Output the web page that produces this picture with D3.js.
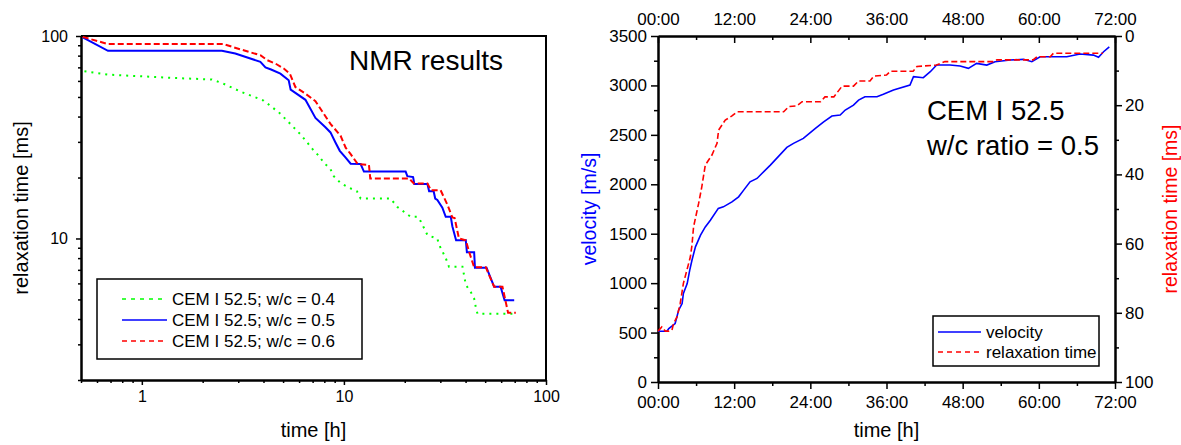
<!DOCTYPE html>
<html>
<head>
<meta charset="utf-8">
<script src="https://cdn.jsdelivr.net/npm/d3@7"></script>
<style>
body { margin: 0; background: #fff; }
text { font-family: "Liberation Sans", Arial, sans-serif; }
</style>
</head>
<body>
<script>
// left chart: NMR relaxation time vs time, [hours, ms]
var wc04 = [[0.52,67],[0.68,64.5],[1.0,63.2],[1.46,62],[2.22,61],[2.49,58.6],[3.13,52.8],[4.0,48],[4.76,42],[5.33,37.5],[6.09,32.7],[6.58,29.8],[7.0,27.6],[7.51,25.6],[7.95,23.7],[8.58,22.0],[8.91,20.3],[9.62,18.8],[10.6,17.8],[11.6,17.1],[12.1,15.75],[17.0,15.75],[18.4,14.3],[21.4,12.8],[23.1,12.8],[24.0,12.15],[25.9,10.4],[29.0,9.97],[29.6,9.3],[31.9,8.0],[33.1,7.26],[38.6,7.26],[39.3,6.6],[40.1,5.9],[42.4,5.45],[44.1,5.05],[44.9,4.6],[45.8,4.25],[70.5,4.25]]
var wc05 = [[0.51,98.5],[0.68,84.5],[2.49,84.5],[2.9,82],[3.86,74.5],[4.09,70],[4.36,68.3],[4.85,65.2],[5.33,60.4],[5.45,54.3],[6.45,48.4],[7.23,39.4],[8.1,35.4],[8.58,33.4],[9.08,29.8],[9.54,27.1],[10.2,25.1],[10.8,23.4],[12.1,23.3],[12.56,21.4],[20.2,21.4],[20.6,20.3],[22.0,20.1],[22.3,18.6],[25.9,18.6],[26.4,17.1],[27.8,17.1],[28.3,15.75],[29.0,15.5],[30.7,14.2],[31.9,12.8],[33.8,12.8],[34.4,11.5],[35.9,9.8],[40.1,9.8],[40.6,8.55],[44.1,8.55],[44.5,7.17],[50.8,7.17],[54.1,6.12],[55.4,5.77],[59.6,5.77],[62.4,4.95],[69.6,4.95]]
var wc06 = [[0.51,99],[0.68,91.2],[2.54,91.2],[2.79,88.5],[3.38,83.5],[3.86,80.4],[4.17,76],[4.58,73.1],[5.04,69.1],[5.4,65.2],[5.75,56],[6.45,51.9],[7.23,47.7],[8.58,36.8],[9.62,32.2],[10.2,28.1],[10.8,26.1],[11.7,23.3],[13.3,23.1],[13.5,19.8],[21.0,19.8],[22.2,18.7],[25.9,18.7],[27.0,17.3],[30.1,17.3],[32.5,14.7],[34.4,12.7],[35.3,12.6],[37.1,10.0],[40.1,9.8],[41.6,8.62],[44.1,7.2],[50.4,7.2],[55.4,5.77],[60.9,5.77],[64.9,4.3],[70.9,4.3]]
var nmrNames = ["CEM I 52.5; w/c = 0.4", "CEM I 52.5; w/c = 0.5", "CEM I 52.5; w/c = 0.6"]

// right chart: velocity [h, m/s] and relaxation time [h, ms]
var velocity = [[0,513],[1.4,513],[1.7,540],[2.7,591],[3.25,726],[3.8,794],[4.0,895],[4.6,996],[5.0,1131],[5.35,1232],[5.9,1367],[6.7,1485],[7.45,1569],[8.25,1637],[9.5,1756],[10.3,1772],[11.65,1822],[12.7,1873],[13.5,1941],[14.5,2025],[15.6,2059],[17.7,2194],[20.3,2373],[21.35,2414],[22.9,2464],[24.8,2566],[26.1,2632],[27.4,2690],[28.7,2700],[29.5,2751],[30.8,2801],[31.6,2852],[32.6,2886],[34.5,2886],[35.5,2910],[37.1,2953],[39.7,3004],[40.25,3088],[41.8,3078],[42.9,3139],[43.9,3206],[46,3206],[47.6,3196],[48.9,3173],[50.2,3223],[51.8,3206],[53.1,3240],[55.5,3257],[57.6,3264],[58.9,3240],[60.2,3290],[64.4,3290],[66.5,3318],[68.6,3307],[69.4,3284],[70.2,3341],[71.1,3391]]
var relax = [[0,85.3],[0.6,84.1],[1.15,85.3],[1.7,85.3],[2.2,85.0],[2.45,83.1],[3.0,81.2],[3.5,77.3],[4.0,71.5],[4.55,67.7],[5.1,63.8],[5.35,60.5],[5.6,55.2],[6.4,48.4],[6.9,43.6],[7.45,37.3],[8.5,34.4],[9.3,31.0],[9.55,27.2],[10.6,24.3],[11.65,23.1],[12.45,21.9],[19.8,21.9],[20.6,20.4],[21.9,20.2],[22.7,19.0],[25.6,19.0],[26.3,17.6],[27.7,17.6],[29.0,14.5],[30.8,14.5],[31.6,13.0],[33.4,13.0],[34.0,11.6],[36.0,11.3],[36.6,10.2],[40.2,10.2],[40.8,8.8],[43.9,8.4],[45.2,7.4],[52.8,7.4],[53.4,6.9],[59.1,6.9],[59.7,6.0],[61.8,6.0],[62.3,5.0],[70.1,5.0]]
var relaxNames = ["velocity", "relaxation time"]

var hourTicks = [0,12,24,36,48,60,72]
var velTicks = [0,500,1000,1500,2000,2500,3000,3500]
var relaxTicks = [0,20,40,60,80,100]

var svg = d3.select("body").append("svg")
    .attr("width", 1181)
    .attr("height", 445)

function styleAxis(g, size) {
    g.attr("font-family", null).attr("font-size", size)
    g.selectAll("text").attr("fill", "#000")
    g.selectAll("line").attr("stroke", "#000").attr("stroke-width", 1.5)
    g.select(".domain").attr("stroke", "#000").attr("stroke-width", 2)
}

// ---------- left chart ----------
var x1 = d3.scaleLog().domain([0.5, 100]).range([81, 546])
var y1 = d3.scaleLog().domain([2, 100]).range([380, 36])

function minors(lo, hi) {
    var out = []
    for (var dec = 0.1; dec <= 10; dec *= 10)
        for (var k = 1; k <= 9; k++) {
            var v = +(k * dec).toPrecision(3)
            if (v >= lo && v <= hi && k != 1) out.push(v)
        }
    return out
}

svg.append("g").attr("transform", "translate(0,380)")
    .call(d3.axisBottom(x1).tickValues(minors(0.5, 100)).tickFormat("").tickSize(3).tickSizeOuter(0))
    .call(styleAxis, 16)
svg.append("g").attr("transform", "translate(0,380)")
    .call(d3.axisBottom(x1).tickValues([1, 10, 100]).tickFormat(d3.format("d")).tickSize(5).tickPadding(6).tickSizeOuter(0))
    .call(styleAxis, 16)
svg.append("g").attr("transform", "translate(81,0)")
    .call(d3.axisLeft(y1).tickValues(minors(2, 100)).tickFormat("").tickSize(3).tickSizeOuter(0))
    .call(styleAxis, 16)
svg.append("g").attr("transform", "translate(81,0)")
    .call(d3.axisLeft(y1).tickValues([10, 100]).tickFormat(d3.format("d")).tickSize(5).tickPadding(8).tickSizeOuter(0))
    .call(styleAxis, 16)

svg.append("path")
    .attr("d", "M81,36H546V380")
    .attr("fill", "none").attr("stroke", "#000").attr("stroke-width", 2)

var line1 = d3.line().x(d => x1(d[0])).y(d => y1(d[1]))
var nmrSeries = [
    {data: wc04, color: "#00ff00", dash: "2,5"},
    {data: wc05, color: "#0000ff", dash: null},
    {data: wc06, color: "#ff0000", dash: "6,3"}
]
svg.selectAll(".nmr").data(nmrSeries).enter().append("path")
    .attr("class", "nmr")
    .attr("d", d => line1(d.data))
    .attr("fill", "none")
    .attr("stroke", d => d.color)
    .attr("stroke-width", 2)
    .attr("stroke-dasharray", d => d.dash)

svg.append("text").attr("x", 349).attr("y", 70)
    .attr("font-size", 28).text("NMR results")
svg.append("text").attr("transform", "translate(28,208) rotate(-90)")
    .attr("text-anchor", "middle").attr("font-size", 20).text("relaxation time [ms]")
svg.append("text").attr("x", 313.5).attr("y", 437)
    .attr("text-anchor", "middle").attr("font-size", 20).text("time [h]")

var leg1 = svg.append("g")
leg1.append("rect").attr("x", 97).attr("y", 279).attr("width", 265).attr("height", 80)
    .attr("fill", "#fff").attr("stroke", "#000").attr("stroke-width", 1.5)
nmrSeries.forEach((s, i) => {
    var yy = 299 + i * 21
    leg1.append("line").attr("x1", 122).attr("x2", 167).attr("y1", yy).attr("y2", yy)
        .attr("stroke", s.color).attr("stroke-width", 1.5).attr("stroke-dasharray", s.dash == null ? null : (i == 0 ? "4,5" : "5,4"))
    leg1.append("text").attr("x", 172).attr("y", yy).attr("dy", "0.35em")
        .attr("font-size", 17).text(nmrNames[i])
})

// ---------- right chart ----------
var x2 = d3.scaleLinear().domain([0, 72]).range([658, 1115])
var yV = d3.scaleLinear().domain([0, 3500]).range([382, 36])
var yR = d3.scaleLinear().domain([0, 100]).range([36, 382])
var hfmt = d => d3.format("02d")(d) + ":00"

svg.append("g").attr("transform", "translate(0,382)")
    .call(d3.axisBottom(x2).tickValues(d3.range(6, 72, 12)).tickFormat("").tickSize(4).tickSizeOuter(0))
    .call(styleAxis, 17)
svg.append("g").attr("transform", "translate(0,382)")
    .call(d3.axisBottom(x2).tickValues(hourTicks).tickFormat(hfmt).tickSize(7).tickPadding(7).tickSizeOuter(0))
    .call(styleAxis, 17)
svg.append("g").attr("transform", "translate(0,36)")
    .call(d3.axisTop(x2).tickValues(d3.range(6, 72, 12)).tickFormat("").tickSize(-4).tickSizeOuter(0))
    .call(styleAxis, 17)
svg.append("g").attr("transform", "translate(0,36)")
    .call(d3.axisTop(x2).tickValues(hourTicks).tickFormat(hfmt).tickSize(-7).tickPadding(11).tickSizeOuter(0))
    .call(styleAxis, 17)
svg.append("g").attr("transform", "translate(658,0)")
    .call(d3.axisLeft(yV).tickValues(d3.range(250, 3500, 500)).tickFormat("").tickSize(4).tickSizeOuter(0))
    .call(styleAxis, 17)
svg.append("g").attr("transform", "translate(658,0)")
    .call(d3.axisLeft(yV).tickValues(velTicks).tickFormat(d3.format("d")).tickSize(7).tickPadding(4).tickSizeOuter(0))
    .call(styleAxis, 17)
svg.append("g").attr("transform", "translate(1115,0)")
    .call(d3.axisRight(yR).tickValues(d3.range(10, 100, 20)).tickFormat("").tickSize(4).tickSizeOuter(0))
    .call(styleAxis, 17)
svg.append("g").attr("transform", "translate(1115,0)")
    .call(d3.axisRight(yR).tickValues(relaxTicks).tickFormat(d3.format("d")).tickSize(7).tickPadding(3).tickSizeOuter(0))
    .call(styleAxis, 17)

svg.append("path")
    .attr("d", d3.line()(velocity.map(d => [x2(d[0]), yV(d[1])])))
    .attr("fill", "none").attr("stroke", "#0000ff").attr("stroke-width", 1.6)
svg.append("path")
    .attr("d", d3.line()(relax.map(d => [x2(d[0]), yR(d[1])])))
    .attr("fill", "none").attr("stroke", "#ff0000").attr("stroke-width", 1.6)
    .attr("stroke-dasharray", "6,3")

svg.append("text").attr("x", 927).attr("y", 120)
    .attr("font-size", 27.5).text("CEM I 52.5")
svg.append("text").attr("x", 927).attr("y", 155)
    .attr("font-size", 27.5).text("w/c ratio = 0.5")
svg.append("text").attr("transform", "translate(596,209) rotate(-90)")
    .attr("text-anchor", "middle").attr("font-size", 19.5).attr("fill", "#0000ff").text("velocity [m/s]")
svg.append("text").attr("transform", "translate(1177,209) rotate(-90)")
    .attr("text-anchor", "middle").attr("font-size", 19.5).attr("fill", "#ff0000").text("relaxation time [ms]")
svg.append("text").attr("x", 886.5).attr("y", 437)
    .attr("text-anchor", "middle").attr("font-size", 20).text("time [h]")

var leg2 = svg.append("g")
leg2.append("rect").attr("x", 933).attr("y", 316).attr("width", 166).attr("height", 50)
    .attr("fill", "#fff").attr("stroke", "#000").attr("stroke-width", 1.5)
relaxNames.forEach((name, i) => {
    var yy = 332 + i * 20
    leg2.append("line").attr("x1", 938).attr("x2", 981).attr("y1", yy).attr("y2", yy)
        .attr("stroke", i == 0 ? "#0000ff" : "#ff0000").attr("stroke-width", 1.5)
        .attr("stroke-dasharray", i == 0 ? null : "5,4")
    leg2.append("text").attr("x", 986).attr("y", yy).attr("dy", "0.35em")
        .attr("font-size", 17).text(name)
})
</script>
</body>
</html>
